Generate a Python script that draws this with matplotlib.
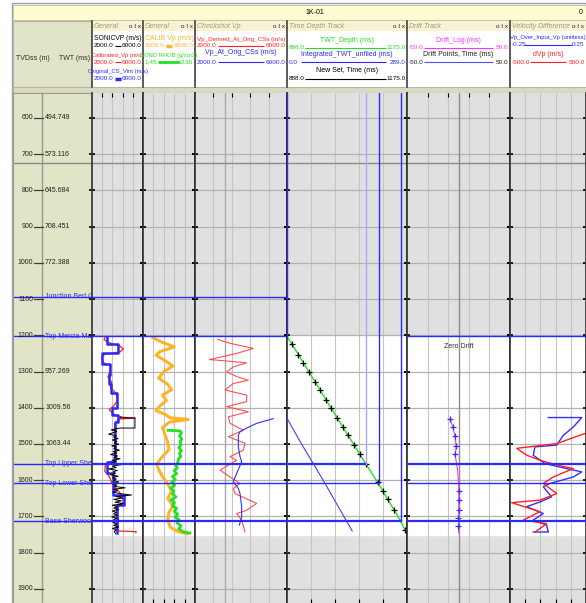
import matplotlib.pyplot as plt
from matplotlib.patches import Rectangle
from matplotlib.transforms import Bbox, TransformedBbox

plt.rcParams['font.family'] = ['Liberation Sans', 'DejaVu Sans']

W, H = 586, 603
FS = 5.0      # names
FSV = 4.6     # scale values

# ---------------- depth / tops
depth_range = (1939, 531)
tvd_ticks = [600, 700, 800, 900, 1000, 1100, 1200, 1300, 1400, 1500, 1600, 1700, 1800, 1900]
twt_labels = ['494.749', '573.116', '645.684', '708.451', '772.388', '', '',
              '957.269', '1009.56', '1063.44', '', '', '', '']
tops_names = ['Junction Bed (M', 'Top Mercia Mud', 'Top Upper Sher', 'Top Lower Sher', 'Base Sherwood']
tops_depth = [1094, 1202, 1555, 1608, 1713]
tops_twt = [None, 888, 1077, 1108, 1160]
log_top, log_base = 1202, 1752
page_break = 723

# ---------------- track 1 : SONICVP / Calibrated_Vp / Original_CS_Vint
cs_vint_depth = [1204, 1224, 1224, 1250, 1250, 1278, 1278, 1310, 1310, 1335, 1335, 1358, 1358,
                 1402, 1402, 1420, 1420, 1440, 1440, 1549, 1549, 1581, 1581, 1640, 1640, 1668, 1668, 1745]
cs_vint = [3150, 3150, 4065, 4065, 2808, 2808, 3412, 3412, 3300, 3300, 3500, 3500, 3935,
           3935, 3543, 3543, 4065, 4065, 3804, 3804, 3200, 3200, 3673, 3673, 4520, 4520, 3935, 3935]
calib_vp_depth = [1204, 1212, 1220, 1230, 1238, 1246, 1252, 1262, 1275, 1285, 1300, 1315, 1330,
                  1345, 1360, 1380, 1395, 1405, 1415, 1425, 1429, 1431, 1445, 1480, 1520, 1545,
                  1555, 1575, 1590, 1610, 1640, 1660, 1680, 1710, 1735, 1740, 1742, 1745]
calib_vp = [3050, 2950, 3300, 4200, 4450, 4200, 3000, 2750, 2900, 3450, 3400, 3250, 3550,
            3450, 3900, 4000, 3700, 3350, 3600, 4100, 5373, 4100, 3800, 3750, 3850, 3700,
            3050, 3000, 3350, 3600, 4300, 4450, 3900, 4100, 3850, 3850, 5450, 5450]
sonic_depth = [1425, 1428, 1428, 1456, 1456, 1461, 1465, 1469, 1473, 1477,
               1481, 1485, 1489, 1493, 1497, 1501, 1505, 1509, 1513, 1517,
               1521, 1525, 1529, 1533, 1537, 1541, 1545, 1549, 1553, 1557,
               1561, 1565, 1569, 1573, 1577, 1581, 1585, 1589, 1593, 1597,
               1601, 1605, 1609, 1613, 1617, 1621, 1625, 1629, 1633, 1637,
               1641, 1645, 1649, 1653, 1657, 1661, 1665, 1669, 1673, 1677,
               1681, 1685, 1689, 1693, 1697, 1701, 1705, 1709, 1713, 1717,
               1721, 1725, 1729, 1733, 1737, 1741, 1745, 1748]
sonic_vp = [4250, 4250, 5370, 5370, 4200, 3500, 3950, 3650, 3300, 3900,
            3700, 4050, 3600, 3950, 3750, 4100, 3550, 3900, 3700, 4150,
            3650, 3950, 3450, 4000, 3700, 4200, 3600, 3850, 3500, 4300,
            3600, 3900, 3300, 4000, 3650, 3850, 3450, 4050, 3600, 3900,
            3700, 4100, 3550, 3950, 3750, 4600, 3700, 4000, 3650, 4200,
            5100, 3900, 4400, 3700, 4300, 3800, 4500, 3600, 4000, 3700,
            4100, 3600, 3900, 3700, 4000, 3550, 3950, 3700, 4050, 3650,
            3950, 3700, 4100, 3600, 3900, 3750, 3800, 3850]

# ---------------- track 2 : CALIB Vp / SOND RHOB
calib_depth = [1206, 1218, 1232, 1245, 1255, 1270, 1285, 1300, 1318, 1335, 1350, 1365, 1380,
               1395, 1408, 1418, 1428, 1432, 1440, 1455, 1475, 1495, 1515, 1535, 1555, 1570,
               1590, 1610, 1630, 1650, 1670, 1690, 1710, 1730, 1742, 1748]
calib = [2750, 3400, 4400, 3300, 3000, 3700, 4300, 3600, 3200, 3900, 4200, 3500, 3800,
         3300, 3000, 3700, 4100, 5480, 4000, 3500, 3700, 3900, 4000, 3500, 3050, 3200,
         3500, 3900, 4200, 3900, 4300, 4000, 3900, 4100, 4700, 5400]
rhob_depth = [1462, 1464, 1470, 1478, 1486, 1494, 1502, 1510, 1518, 1526, 1534, 1542, 1550,
              1558, 1566, 1574, 1582, 1590, 1598, 1606, 1614, 1622, 1630, 1638, 1646, 1654,
              1662, 1670, 1678, 1686, 1694, 1702, 1710, 1718, 1726, 1734, 1742, 1746]
rhob = [2.17, 2.52, 2.56, 2.50, 2.57, 2.52, 2.55, 2.48, 2.56, 2.50, 2.54, 2.47, 2.46,
        2.40, 2.44, 2.35, 2.42, 2.30, 2.38, 2.28, 2.36, 2.25, 2.34, 2.30, 2.40, 2.26,
        2.36, 2.30, 2.42, 2.35, 2.45, 2.38, 2.50, 2.43, 2.55, 2.48, 2.60, 2.80]

# ---------------- track 3 : checkshot velocities
vp_derived_depth = [1211, 1222, 1236, 1250, 1267, 1270, 1276, 1287, 1301, 1314, 1324, 1333,
                    1351, 1365, 1383, 1397, 1411, 1425, 1443, 1462, 1480, 1498, 1517, 1535,
                    1545, 1572, 1591, 1609, 1623, 1637, 1664, 1683, 1692, 1710, 1743]
vp_derived = [2971, 3522, 4536, 3812, 2623, 3232, 4246, 3667, 3377, 3812, 4319, 3667,
              3304, 4246, 4246, 3377, 4319, 3449, 3522, 4101, 3449, 4174, 4101, 3522,
              3812, 3087, 3522, 3957, 3667, 3740, 4681, 4246, 3812, 4029, 4174]
vp_cs_depth = [1430, 1443, 1456, 1466, 1476, 1508, 1535, 1549, 1581, 1604, 1623, 1637, 1673, 1701, 1724]
vp_cs = [5406, 4681, 4250, 3957, 3884, 3884, 3957, 4029, 3812, 3667, 3884, 3957, 4029, 4029, 3928]

# ---------------- track 4 : time-depth
twt_depth = [1202, 1300, 1400, 1500, 1556, 1608, 1713, 1749]
twt = [888, 940, 993, 1047, 1077, 1106, 1160, 1175]
new_set_depth = [1224, 1255, 1276, 1301, 1328, 1351, 1379, 1402, 1429, 1453, 1475, 1503,
                 1528, 1556, 1606, 1630, 1653, 1681, 1738]
new_set_twt = [899, 915, 926, 940, 954, 966, 981, 994, 1008, 1021, 1033, 1048,
               1062, 1077, 1105, 1118, 1130, 1144, 1170]
int_twt_depth = [1429, 1500, 1600, 1700, 1740]
int_twt = [0, 35, 87, 137, 157]

# ---------------- track 5 : drift
drift_depth = [1430, 1454, 1480, 1508, 1530, 1575, 1618, 1700, 1745]
drift = [-8.2, -5.5, -3.3, -2.3, -3.3, -0.7, 0.2, 0.2, 0.0]
drift_pt_depth = [1430, 1454, 1478, 1506, 1528, 1629, 1655, 1681, 1704, 1727]
drift_pt = [-8.2, -5.5, -3.3, -2.3, -3.3, 0.3, 0.3, 0.0, -0.3, -0.3]

# ---------------- track 6 : velocity difference
ratio_depth = [1427, 1427, 1453, 1476, 1503, 1508, 1531, 1554, 1568, 1577, 1591, 1609, 1618,
               1646, 1660, 1673, 1692, 1710, 1724, 1743, 1743]
ratio = [0.002, 0.222, 0.167, 0.101, 0.057, -0.086, -0.097, -0.020, 0.123, 0.222, 0.167, 0.013,
         -0.031, 0.024, -0.053, -0.140, -0.031, -0.097, -0.009, 0.002, -0.097]
dvp_depth = [1471, 1499, 1512, 1531, 1545, 1558, 1568, 1591, 1609, 1637, 1655, 1662, 1687,
             1710, 1720, 1743]
dvp = [487, 114, -412, -281, -105, 114, 333, 70, -62, 114, -105, -478, -105, -325, -17, -171]

BLUE = '#2a2aff'
RED = '#ff2020'
ORANGE = '#ffb428'
GREEN = '#22e022'
MAGENTA = '#ff30ff'

fig = plt.figure(figsize=(W / 100, H / 100), dpi=100)
fig.patch.set_facecolor('white')
renderer = fig.canvas.get_renderer()


def fit(t, max_w, min_size=4.3):
    # shrink a text a little so it fits, like the narrow font of the original
    while t.get_window_extent(renderer).width > max_w and t.get_fontsize() > min_size:
        t.set_fontsize(t.get_fontsize() - 0.1)
    return t


def clip_for(x0, x1):
    return TransformedBbox(Bbox.from_extents(x0 / W, 1 - 87 / H, x1 / W, 1 - 21 / H), fig.transFigure)


# overlay in pixel coordinates for the header
hax = fig.add_axes([0, 0, 1, 1])
hax.set_xlim(0, W)
hax.set_ylim(H, 0)
hax.axis('off')

PLOT_TOP, PLOT_BOT = 93, 603
tracks_px = [(92, 143), (143, 195), (195, 287), (287, 407), (407, 510), (510, 586)]

# frame + title bar
hax.add_patch(Rectangle((12, 3), W - 12, H - 3, fc='none', ec='#8ea4c4', lw=1))
hax.add_patch(Rectangle((13, 5), W - 13, 15, fc='#fefcd2', ec='#c8c8a4', lw=0.8))
hax.text(315, 12.5, '1K-01', ha='center', va='center', fontsize=FS)
hax.text(581, 12.5, '0', ha='center', va='center', fontsize=FS)
hax.add_patch(Rectangle((13, 21), 79, 66, fc='#e1e4c6', ec='#b4b4a0', lw=0.8))
hax.text(16, 58, 'TVDss (m)', ha='left', va='center', fontsize=FS, color='#303030')
hax.text(90, 58, 'TWT (ms)', ha='right', va='center', fontsize=FS, color='#303030')
hax.add_patch(Rectangle((13, 87), W - 13, 6, fc='#d8dac6', ec='#b8b8a4', lw=0.8))

track_titles = ['General', 'General', 'Checkshot Vp', 'Time Depth Track', 'Drift Track', 'Velocity Difference']

for (x0, x1), title in zip(tracks_px, track_titles):
    hax.add_patch(Rectangle((x0, 21), x1 - x0, 10, fc='#f5f3d3', ec='none'))
    hax.add_patch(Rectangle((x0, 31), x1 - x0, 56, fc='white', ec='none'))
    hax.plot([x0, x0], [21, 87], color='#404040', lw=1.2)
    t = hax.text(x0 + 2, 26.5, title, ha='left', va='center', fontsize=FS, color='#a49c6c', style='italic')
    fit(t, x1 - x0 - 16)
    t.set_clip_box(clip_for(x0 + 1, x1 - 15))
    hax.text(x1 - 2, 26.5, 'o I x', ha='right', va='center', fontsize=FSV, color='#202020')


def hdr_curve(trk, y_name, y_val, name, color, lo, hi, lx0, lx1, lw, name_color=None):
    x0, x1 = tracks_px[trk]
    t = hax.text((x0 + x1) / 2, y_name, name, ha='center', va='center', fontsize=FS,
                 color=name_color or color)
    fit(t, x1 - x0 - 3)
    t.set_clip_box(clip_for(x0 + 1, x1 - 1))
    hax.text(x0 + 1.5, y_val, lo, ha='left', va='center', fontsize=FSV, color=color)
    hax.text(x1 - 1.5, y_val, hi, ha='right', va='center', fontsize=FSV, color=color)
    hax.plot([lx0, lx1], [y_val, y_val], color=color, lw=lw, solid_capstyle='butt')


hdr_curve(0, 39, 45.5, 'SONICVP (m/s)', 'black', '2000.0', '6000.0', 114.5, 120.5, 0.8)
hdr_curve(0, 55, 62, 'Calibrated_Vp (m/s)', RED, '2000.0', '6000.0', 114.5, 120.5, 0.8)
hdr_curve(0, 71, 79, 'Original_CS_Vint (m/s)', BLUE, '2000.0', '6000.0', 114.5, 120.5, 2.5)
hdr_curve(1, 39, 45.5, 'CALIB Vp (m/s)', ORANGE, '2000.0', '6000.0', 165.5, 171.5, 2.5)
hdr_curve(1, 55, 62, 'SOND RHOB (g/cm3)', GREEN, '1.45', '2.95', 158, 180, 2.0)
hdr_curve(2, 39, 45.5, 'Vp_Derived_At_Orig_CSs (m/s)', RED, '2000.0', '6000.0', 218, 264, 0.8)
hdr_curve(2, 53, 62, 'Vp_At_Orig_CSs (m/s)', BLUE, '2000.0', '6000.0', 218, 264, 0.8)
hdr_curve(3, 40, 47.5, 'TWT_Depth (ms)', GREEN, '888.0', '1175.0', 305, 386, 0.8)
hdr_curve(3, 55, 62, 'Integrated_TWT_unfiled (ms)', BLUE, '0.0', '289.0', 301, 386, 0.8)
hdr_curve(3, 71, 79, 'New Set, Time (ms)', 'black', '888.0', '1175.0', 305, 386, 0.8)
hdr_curve(4, 40, 47.5, 'Drift_Log (ms)', MAGENTA, '-50.0', '50.0', 424, 493, 0.8)
hdr_curve(4, 55, 62, 'Drift Points, Time (ms)', '#202020', '-50.0', '50.0', 424, 493, 0.8)
hax.lines[-1].set_color('#5050ff')
hdr_curve(5, 38, 45, 'Vp_Over_Input_Vp (unitless)', BLUE, '-0.25', '0.25', 524, 572, 0.8)
hdr_curve(5, 55, 62, 'dVp (m/s)', RED, '-500.0', '500.0', 530, 566, 0.8)


def px_axes(x0, x1):
    return fig.add_axes([x0 / W, 1 - PLOT_BOT / H, (x1 - x0) / W, (PLOT_BOT - PLOT_TOP) / H])


# ---------------- left depth panel
ax0 = px_axes(13, 92)
ax0.set_facecolor('#e1e4c6')
ax0.set_xlim(0, 79)
ax0.set_ylim(*depth_range)
ax0.set_xticks([])
ax0.set_yticks([])
for s in ax0.spines.values():
    s.set_color('#9c9c86')
ax0.axvline(29, color='#9a9a88', lw=1)
ax0.axhline(page_break, color='#8a8a8a', lw=1)
for d, lab in zip(tvd_ticks, twt_labels):
    ax0.text(20, d, str(d), ha='right', va='center', fontsize=FS, color='#202020')
    ax0.plot([21, 30], [d, d], color='#404040', lw=0.9)
    if lab:
        ax0.text(32, d, lab, ha='left', va='center', fontsize=FS, color='#202020')
for name, d in zip(tops_names, tops_depth):
    ax0.axhline(d, color=BLUE, lw=1)
    ax0.text(32, d, name, ha='left', va='center', fontsize=FS, color=BLUE, clip_on=True)


def make_track(i, lo, hi):
    x0, x1 = tracks_px[i]
    ax = px_axes(x0, x1)
    ax.set_facecolor('#e0e0e0')
    ax.set_xlim(lo, hi)
    ax.set_ylim(*depth_range)
    ax.axhspan(log_top, log_base, color='white', zorder=0.2)
    grid_x = [lo + f * (hi - lo) for f in (0.2, 0.4, 0.6, 0.8)]
    for gx in grid_x:
        ax.axvline(gx, color='#c4c4c4', lw=0.8, zorder=0.5)
    for d in tvd_ticks:
        ax.axhline(d, color='#b2b2b2', lw=0.9, zorder=0.5)
    ax.axhline(page_break, color='#8a8a8a', lw=1, zorder=0.6)
    ax.set_xticks(grid_x)
    ax.set_yticks(tvd_ticks)
    ax.tick_params(axis='x', top=True, bottom=False, direction='in', length=3, width=0.8,
                   labeltop=False, labelbottom=False)
    ax.tick_params(axis='y', left=True, right=True, direction='inout', length=5, width=1.2,
                   labelleft=False, labelright=False)
    for s in ('top', 'bottom'):
        ax.spines[s].set_visible(False)
    for s in ('left', 'right'):
        ax.spines[s].set_color('#303030')
        ax.spines[s].set_linewidth(1.2)
    return ax


def draw_tops(ax, skip_first=False):
    for k, d in enumerate(tops_depth):
        if skip_first and k == 0:
            continue
        ax.axhline(d, color=BLUE, lw=1.6 if k in (2, 4) else 1.0, zorder=3)


# track 1
ax1 = make_track(0, 2000, 6000)
ax1.plot(calib_vp, calib_vp_depth, color=RED, lw=0.9, zorder=2)
ax1.plot(cs_vint, cs_vint_depth, color=BLUE, lw=1.8, zorder=2.1)
ax1.plot(sonic_vp, sonic_depth, color='black', lw=0.7, zorder=2.2)
draw_tops(ax1)

# track 2
ax2 = make_track(1, 2000, 6000)
ax2.plot(calib, calib_depth, color=ORANGE, lw=2.2, zorder=2)
ax2r = ax2.twiny()
ax2r.set_xlim(1.45, 2.95)
ax2r.axis('off')
ax2r.plot(rhob, rhob_depth, color=GREEN, lw=2.0, zorder=2)
draw_tops(ax2r)

# track 3
ax3 = make_track(2, 2000, 6000)
ax3.axvline(3300, color='#a8a8a8', lw=1, zorder=0.5)
ax3.plot(vp_derived, vp_derived_depth, color='#ff5050', lw=0.8, zorder=2)
ax3.plot(vp_cs, vp_cs_depth, color='#3030ff', lw=0.8, zorder=2)
draw_tops(ax3)

# track 4
ax4 = make_track(3, 888, 1175)
ax4.plot(twt, twt_depth, color=GREEN, lw=1, zorder=2)
ax4.plot(new_set_twt, new_set_depth, ls='none', marker='+', ms=5, mew=0.9, color='black', zorder=2.5)
for k, (d, t) in enumerate(zip(tops_depth, tops_twt)):
    if t is None:
        continue
    c = '#a8a8ff' if k == 2 else BLUE
    ax4.plot([888, t], [d, d], color=BLUE, lw=1.6 if k in (2, 4) else 1.0, zorder=3)
    ax4.plot([t, t], [depth_range[1], d], color=c, lw=1.0, zorder=3)
ax4i = ax4.twiny()
ax4i.set_xlim(0, 289)
ax4i.axis('off')
ax4i.plot(int_twt, int_twt_depth, color='#4040ff', lw=0.8)

# track 5
ax5 = make_track(4, -50, 50)
ax5.axvline(0, color='#8c8c8c', lw=1, zorder=0.6)
ax5.text(0, 1231, 'Zero Drift', ha='center', va='center', fontsize=FS, color='#303030')
ax5.plot(drift, drift_depth, color=MAGENTA, lw=0.8, zorder=2)
ax5.plot(drift_pt, drift_pt_depth, ls='none', marker='+', ms=5, mew=0.9, color='#3030ff', zorder=2.5)
draw_tops(ax5, skip_first=True)

# track 6
ax6 = make_track(5, -0.25, 0.25)
ax6d = ax6.twiny()
ax6d.set_xlim(-500, 500)
ax6d.axis('off')
ax6d.plot(dvp, dvp_depth, color=RED, lw=1.0)
ax6.plot(ratio, ratio_depth, color='#3030ff', lw=1.0, zorder=2)
draw_tops(ax6d, skip_first=True)

fig.savefig('out.png', dpi=100)
